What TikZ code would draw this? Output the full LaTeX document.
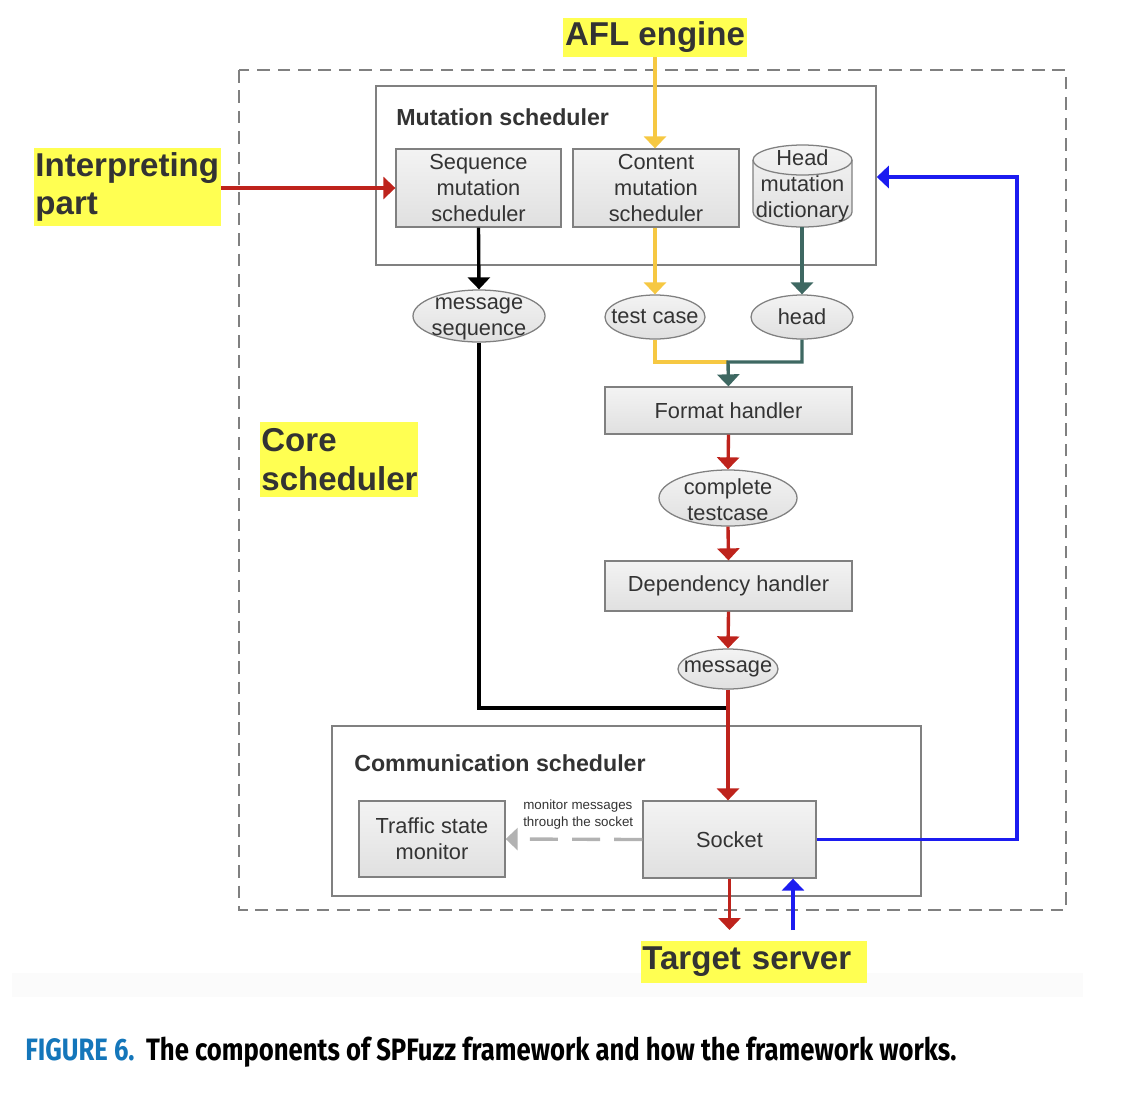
\documentclass[tikz,border=0pt]{standalone}
\usepackage{graphicx}
\usepackage{fontspec}
\setmainfont{Liberation Sans}
\newfontfamily\capfont{Fira Sans}
\usepackage{tikz}
\usetikzlibrary{arrows.meta}
\usetikzlibrary{shapes.geometric}

\definecolor{textgray}{RGB}{51,51,51}
\definecolor{bordergray}{RGB}{128,128,128}
\definecolor{boxtop}{RGB}{243,243,243}
\definecolor{boxbottom}{RGB}{224,224,224}
\definecolor{flowred}{RGB}{190,35,28}
\definecolor{flowyellow}{RGB}{246,200,66}
\definecolor{flowteal}{RGB}{62,104,98}
\definecolor{flowblue}{RGB}{28,28,240}
\definecolor{monitorgray}{RGB}{178,178,178}
\definecolor{hlyellow}{RGB}{255,255,82}
\definecolor{capblue}{RGB}{20,118,186}

\begin{document}
\begin{tikzpicture}[x=0.025cm, y=-0.025cm,
					every node/.style = {text=textgray, font=\fontsize{15.5}{18.5}\selectfont},
					every label/.style = {align=center, inner sep=0pt}]

\tikzstyle{box}=[rectangle, draw=bordergray, line width=0.9pt, top color=boxtop, bottom color=boxbottom, align=center, inner sep=0pt]
\tikzstyle{oval}=[ellipse, draw=bordergray, line width=0.9pt, top color=boxtop, bottom color=boxbottom, inner sep=0pt]
\tikzstyle{store}=[draw=bordergray, line width=0.9pt, top color=boxtop, bottom color=boxbottom]
\tikzstyle{group}=[rectangle, draw=bordergray, line width=1pt, inner sep=0pt]
\tikzstyle{grouptitle}=[anchor=west, inner sep=0pt, font=\bfseries\fontsize{16.5}{19}\selectfont]
\tikzstyle{tag}=[fill=hlyellow, align=left, inner xsep=1pt, inner ysep=0pt, font=\bfseries\fontsize{23.5}{27.5}\selectfont]
\tikzstyle{flow}=[line width=2.4pt, -{Triangle[width=0.55cm,length=0.3cm]}]

\useasboundingbox (0,0) rectangle (1136,1099);
\fill[black!1.5] (12,973) rectangle (1083,997);

% core scheduler frame
\draw[bordergray, line width=1pt, dash pattern=on 9pt off 5.5pt] (239,70) rectangle (1066,910);

% mutation scheduler
\node[group, minimum width=12.5cm, minimum height=4.475cm] (mutbox) at (626,175.5) {};
\node[grouptitle] (muttitle) at (396,117) {Mutation scheduler};
\node[box, minimum width=4.125cm, minimum height=1.95cm] (seqbox) at (478.5,188) {Sequence\\mutation\\scheduler};
\node[box, minimum width=4.15cm, minimum height=1.95cm] (content) at (656,188) {Content\\mutation\\scheduler};
% dictionary drum
\coordinate (headpos) at (802.5,186);
\path[store] (headpos) ++(-49.5,-26) -- ++(0,52) arc[start angle=180, end angle=0, x radius=49.5, y radius=15]
	-- ++(0,-52) arc[start angle=0, end angle=-180, x radius=49.5, y radius=15] -- cycle;
\draw[bordergray, line width=0.9pt] (headpos) ++(-49.5,-26) arc[start angle=180, end angle=0, x radius=49.5, y radius=15];
\node[align=center, inner sep=0pt, minimum width=2.475cm, minimum height=2.05cm] (headdict) at (headpos) {Head\\mutation\\dictionary};

% intermediate data
\node[oval, minimum width=3.3cm, minimum height=1.3cm, label={[yshift=-2pt]center:message\\sequence}] (msgseq) at (479,316) {};
\node[oval, minimum width=2.5cm, minimum height=1.1cm, label={center:test case}] (testcase) at (655,317) {};
\node[oval, minimum width=2.55cm, minimum height=1.1cm, label={center:head}] (headoval) at (802,317) {};
\node[box, minimum width=6.175cm, minimum height=1.175cm] (format) at (728.5,410.5) {Format handler};
\node[oval, minimum width=3.45cm, minimum height=1.4cm, label={[yshift=-1pt]center:complete\\testcase}] (complete) at (728,498) {};
\node[box, minimum width=6.175cm, minimum height=1.25cm] (depend) at (728.5,586) {Dependency handler};
\node[oval, minimum width=2.5cm, minimum height=1cm, label={center:message}] (msg) at (728,669) {};

% communication scheduler
\node[group, minimum width=14.725cm, minimum height=4.25cm] (commbox) at (626.5,811) {};
\node[grouptitle] (commtitle) at (354,763) {Communication scheduler};
\node[box, minimum width=3.65cm, minimum height=1.9cm] (traffic) at (432,839) {Traffic state\\monitor};
\node[box, minimum width=4.325cm, minimum height=1.925cm] (socket) at (729.5,839.5) {Socket};

% highlighted parts
\node[tag, minimum width=4.6cm, minimum height=0.975cm] (afl) at (655,37.5) {AFL engine};
\node[tag, text width=4.6cm, minimum height=1.95cm] (interp) at (127.5,187) {Interpreting\\part};
\node[tag, text width=3.88cm, minimum height=1.875cm] (core) at (339,459.5) {Core\\scheduler};
\node[tag, text width=5.58cm, minimum height=1.05cm] (target) at (754,962) {Target server};

\coordinate (join) at (728,362);
\coordinate (merge) at (728,708);
\coordinate (bluecorner) at (1017,177);
\coordinate (tsdown) at (729.5,930);
\coordinate (tsup) at (793,930);

\draw[flow, flowred] (seqbox.west -| interp.east) -- (seqbox.west);
\draw[flow, flowyellow] (afl.south) -- (afl.south |- content.north);
\draw[flow, black] (seqbox.south) -- (msgseq.north);
\draw[flow, flowyellow] (testcase.north |- content.south) -- (testcase.north);
\draw[flow, flowteal] (headoval.north |- headdict.south) -- (headoval.north);
\draw[line width=2.4pt, flowyellow] (testcase.south) |- (join);
\draw[flow, flowteal] (headoval.south) |- (join) -- (format.north);
\draw[flow, flowred] (format.south) -- (complete.north);
\draw[flow, flowred] (complete.south) -- (depend.north);
\draw[flow, flowred] (depend.south) -- (msg.north);
\draw[line width=2.4pt, black] (msgseq.south) |- (merge);
\draw[flow, flowred] (msg.south) -- (msg.south |- socket.north);
\draw[flow, monitorgray, dash pattern=on 20pt off 10pt] (socket.west) -- (traffic.east)
	node[midway, above=6pt, xshift=3pt, inner sep=0pt, align=left, font=\fontsize{9.5}{12}\selectfont] (monlabel) {monitor messages\\through the socket};
\draw[flow, flowblue] (socket.east) -| (bluecorner) -- (bluecorner -| mutbox.east);
\draw[flow, flowred] (socket.south) -- (tsdown);
\draw[flow, flowblue] (tsup) -- (tsup |- socket.south);

% caption
\node[anchor=west, inner sep=0pt] (caption) at (25,1052) {\scalebox{0.83}[1]{\capfont\bfseries\fontsize{22}{26}\selectfont\textcolor{capblue}{FIGURE 6.}\hspace{0.45em}\textcolor{black}{The components of SPFuzz framework and how the framework works.}}};
\end{tikzpicture}
\end{document}
